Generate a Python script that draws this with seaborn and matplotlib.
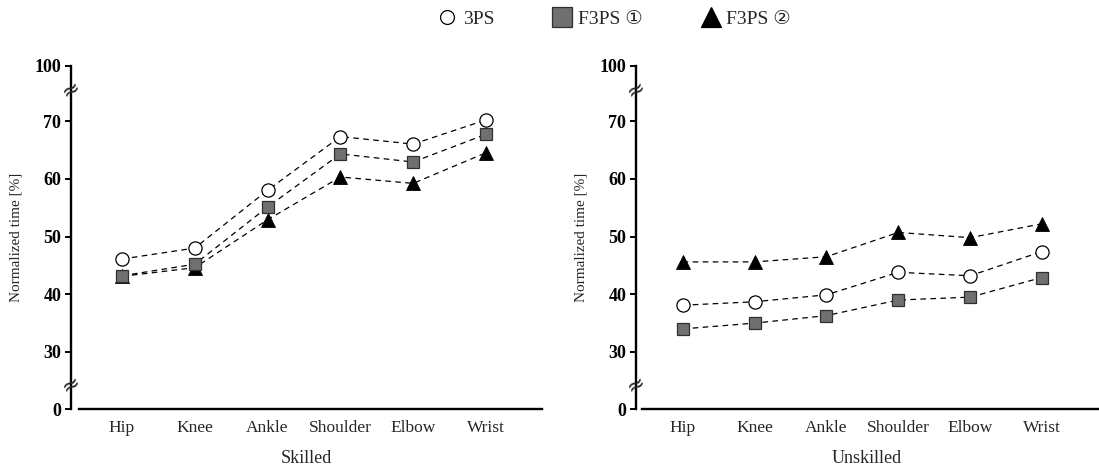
import numpy as np
import pandas as pd
import matplotlib
matplotlib.use("Agg")
import matplotlib.pyplot as plt
import matplotlib.transforms as mtransforms
from matplotlib.lines import Line2D
import seaborn as sns

# ---------------- data ----------------
joints = ["Hip", "Knee", "Ankle", "Shoulder", "Elbow", "Wrist"]
series_names = ["3PS", "F3PS \u2460", "F3PS \u2461"]

skilled_3ps = [46.1, 48.0, 58.0, 67.3, 66.0, 70.6]
skilled_f3ps1 = [43.2, 45.2, 55.1, 64.3, 62.9, 67.7]
skilled_f3ps2 = [43.1, 44.6, 52.9, 60.3, 59.2, 64.5]

unskilled_3ps = [38.1, 38.7, 39.9, 43.8, 43.2, 47.4]
unskilled_f3ps1 = [34.0, 35.0, 36.3, 39.0, 39.5, 42.9]
unskilled_f3ps2 = [45.6, 45.6, 46.5, 50.7, 49.8, 52.2]

panel_titles = ["Skilled", "Unskilled"]
y_ticks = [0, 30, 40, 50, 60, 70, 100]
y_label = "Normalized time [%]"

# ---------------- style ----------------
sns.set_style("white")
plt.rcParams["font.family"] = ["Liberation Serif", "DejaVu Sans"]

fig = plt.figure(figsize=(10.99, 4.67), dpi=100)
ax_l = fig.add_axes([71 / 1099, 1 - 409 / 467, 471 / 1099, 343 / 467])
ax_r = fig.add_axes([636 / 1099, 1 - 409 / 467, 462 / 1099, 343 / 467])

# broken-axis scale: piecewise linear
_vals = [0, 30, 70, 100]
_pos = [0, 57, 288, 343]


def fwd(v):
    return np.interp(v, _vals, _pos)


def inv(p):
    return np.interp(p, _pos, _vals)


styles = {
    "3PS": dict(marker="o", mfc="white", mec="black", ms=9.5, mew=0.9),
    "F3PS \u2460": dict(marker="s", mfc="#707070", mec="#303030", ms=8.8, mew=0.9),
    "F3PS \u2461": dict(marker="^", mfc="black", mec="black", ms=9.5, mew=0.6),
}

panels = [
    (ax_l, [skilled_3ps, skilled_f3ps1, skilled_f3ps2], (-0.70, 5.77), -0.59),
    (ax_r, [unskilled_3ps, unskilled_f3ps1, unskilled_f3ps2], (-0.65, 5.78), -0.57),
]

draw_order = [2, 1, 0]
for (ax, vals, xlim, spine_start), title in zip(panels, panel_titles):
    ax.set_yscale("function", functions=(fwd, inv))
    for i in draw_order:
        name = series_names[i]
        df = pd.DataFrame({"joint": joints, "value": vals[i]})
        st = styles[name]
        sns.lineplot(data=df, x="joint", y="value", ax=ax, sort=False,
                     color="black", linestyle=(0, (4.5, 3.5)), linewidth=0.9,
                     marker=st["marker"], markerfacecolor=st["mfc"],
                     markeredgecolor=st["mec"], markersize=st["ms"],
                     markeredgewidth=st["mew"], zorder=3 + (2 - i))
    ax.set_ylim(0, 100)
    ax.set_xlim(*xlim)
    ax.set_yticks(y_ticks)
    ax.set_yticklabels([str(t) for t in y_ticks], fontweight="bold", fontsize=13)
    ax.tick_params(axis="y", direction="out", length=4, width=1.4, pad=3,
                   left=True, colors="black")
    ax.tick_params(axis="x", length=0, pad=8, labelsize=12.5)
    ax.minorticks_off()
    for s in ["top", "right"]:
        ax.spines[s].set_visible(False)
    for s in ["left", "bottom"]:
        ax.spines[s].set_linewidth(1.7)
        ax.spines[s].set_color("black")
    ax.spines["bottom"].set_bounds(spine_start, xlim[1])
    ax.set_ylabel(y_label, fontsize=11, labelpad=9)
    ax.set_xlabel(title, fontsize=13, labelpad=10)
    ax.grid(False)
    # break marks on the y axis
    trans = mtransforms.blended_transform_factory(ax.transAxes, ax.transData)
    for yb in (87, 13):
        ax.text(0, yb, "\u2248", transform=trans, ha="center", va="center",
                fontsize=16, rotation=30, family="DejaVu Sans", clip_on=False)

# legend
handles = []
leg_ms = {"3PS": 10, "F3PS \u2460": 14, "F3PS \u2461": 14.5}
for name in series_names:
    st = styles[name]
    handles.append(Line2D([], [], linestyle="none", marker=st["marker"],
                          markerfacecolor=st["mfc"], markeredgecolor=st["mec"],
                          markersize=leg_ms[name], markeredgewidth=0.9,
                          label=name))
fig.legend(handles=handles, loc="upper center", bbox_to_anchor=(0.559, 1.015),
           ncol=3, frameon=False, fontsize=14, handlelength=1.0,
           handletextpad=0.3, columnspacing=3.0, numpoints=1)

fig.savefig("out.png", dpi=100)
